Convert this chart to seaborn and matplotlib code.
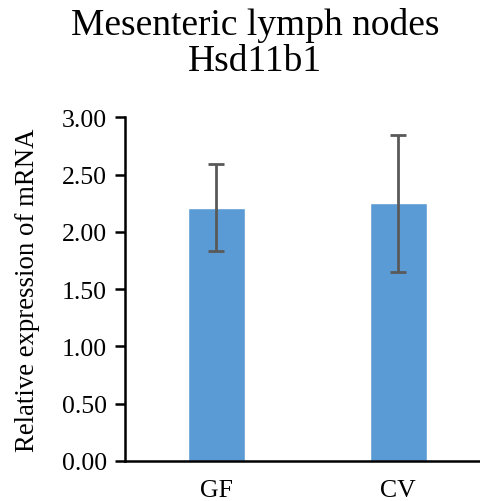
import matplotlib
matplotlib.use("Agg")
import matplotlib.pyplot as plt
import seaborn as sns
import pandas as pd

categories = ["GF", "CV"]
means = [2.21, 2.25]
errors = [0.38, 0.60]
yticks = [0.0, 0.5, 1.0, 1.5, 2.0, 2.5, 3.0]

sns.set_theme(style="white")
plt.rcParams['font.family'] = ['Liberation Serif', 'DejaVu Serif']
plt.rcParams['text.color'] = 'black'
plt.rcParams['axes.labelcolor'] = 'black'
plt.rcParams['xtick.color'] = 'black'
plt.rcParams['ytick.color'] = 'black'

df = pd.DataFrame({"group": categories, "value": means})

fig = plt.figure(figsize=(4.81, 5.02), dpi=100)
ax = fig.add_axes([0.26, 0.0797, 0.757, 0.6846])
sns.barplot(data=df, x="group", y="value", color="#5B9BD5", saturation=1,
            width=0.313, errorbar=None, ax=ax)
ax.errorbar(x=list(range(len(categories))), y=means, yerr=errors, fmt="none",
            ecolor="#595959", elinewidth=2, capsize=6, capthick=2)

ax.set_xlim(-0.5, 1.5)
ax.set_ylim(0, 3.0)
ax.set_yticks(yticks)
ax.set_yticklabels([f"{t:.2f}" for t in yticks])
ax.set_xlabel("")
ax.set_ylabel("Relative expression of mRNA", fontsize=19.3, labelpad=16)
ax.tick_params(axis="y", labelsize=18.5, length=7, width=1.8, direction="out", left=True, pad=6, colors="black")
ax.tick_params(axis="x", labelsize=18.5, length=0, pad=13, colors="black")
for s in ["top", "right"]:
    ax.spines[s].set_visible(False)
for s in ["left", "bottom"]:
    ax.spines[s].set_linewidth(1.8)
    ax.spines[s].set_color("black")
fig.text(0.53, 0.914, "Mesenteric lymph nodes\nHsd11b1", fontsize=27,
         ha="center", va="center", linespacing=1.05, color="black")

fig.savefig("out.png", dpi=100)
